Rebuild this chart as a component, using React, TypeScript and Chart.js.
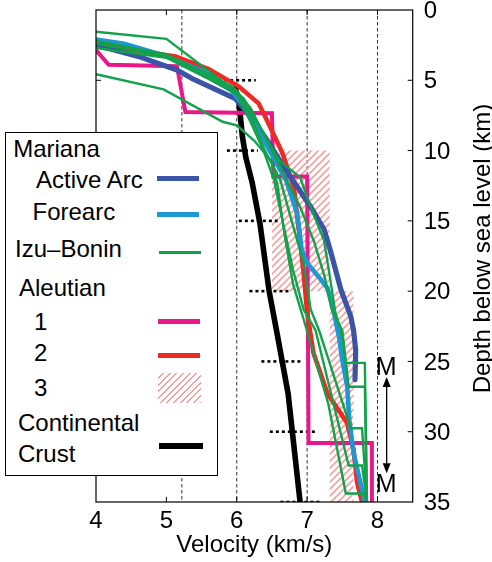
import React, { useEffect, useRef } from "react";
import { Chart, registerables } from "chart.js";

Chart.register(...registerables);

const FONT = '"Liberation Sans", Arial, Helvetica, sans-serif';

// ---- axes ----
const xTicks = [4, 5, 6, 7, 8];
const yTicks = [0, 5, 10, 15, 20, 25, 30, 35];
const gridX = [5.22, 6, 7, 8];

// ---- Mariana ----
const activeArcV = [4.0, 4.6, 5.15, 5.36, 5.98, 6.2, 6.43, 6.66, 7.05, 7.24, 7.33, 7.48, 7.62, 7.66, 7.69, 7.68];
const activeArcD = [2.5, 3.3, 4.27, 4.86, 6.3, 7.6, 9.25, 11.1, 14.0, 15.6, 17.1, 19.9, 21.8, 22.8, 24.2, 26.3];

const forearcV = [4.0, 4.4, 4.94, 5.5, 5.88, 6.1, 6.3, 6.5, 6.7, 6.86, 6.92, 7.0, 7.15, 7.29, 7.38, 7.45, 7.5, 7.57, 7.6, 7.66, 7.82];
const forearcD = [2.1, 2.4, 3.2, 4.3, 5.45, 6.8, 8.5, 10.3, 12.1, 14.5, 17.0, 18.0, 18.9, 19.8, 21.5, 23.2, 24.9, 26.8, 29.2, 31.5, 35];

// ---- Izu-Bonin profiles ----
const izu1V = [4.0, 5.0, 5.8, 6.1, 6.35, 6.6, 6.9, 7.05, 7.24, 7.33, 7.4, 7.48, 7.55, 7.82, 7.85];
const izu1D = [1.55, 2.05, 5.1, 6.3, 8.5, 10.7, 11.9, 14, 16.4, 19.2, 21.5, 22.8, 25.1, 25.1, 35];
const izu2V = [4.0, 5.0, 5.6, 5.95, 6.2, 6.45, 6.7, 6.9, 7.1, 7.25, 7.35, 7.5, 7.59, 7.82, 7.85];
const izu2D = [2.2, 3.15, 4.6, 5.5, 7.0, 9.5, 12.0, 14.0, 16.5, 19.0, 21.3, 22.8, 26.8, 26.8, 35];
const izu3V = [4.0, 5.0, 5.6, 6.0, 6.2, 6.4, 6.62, 6.78, 6.95, 7.05, 7.17, 7.62, 7.78, 7.85];
const izu3D = [2.4, 3.3, 4.8, 5.7, 7.5, 10, 12.1, 15, 18, 21.3, 22.8, 29.75, 29.75, 35];
const izu4V = [4.0, 5.0, 5.6, 6.0, 6.2, 6.38, 6.53, 6.65, 6.8, 6.95, 7.12, 7.59, 7.78, 7.85];
const izu4D = [2.7, 3.4, 4.9, 6.0, 8.0, 10, 12.1, 15, 18.5, 21.3, 22.8, 32.4, 32.4, 35];
const izu5V = [4.0, 4.96, 5.8, 6.0, 6.25, 6.5, 6.58, 6.68, 6.8, 6.95, 7.3, 7.55, 7.8, 7.85];
const izu5D = [4.57, 5.65, 7.95, 8.2, 9.3, 10.8, 12.5, 16, 19.5, 22, 28, 34.4, 34.4, 35];

// ---- Aleutian ----
const aleut1V = [4.0, 4.18, 5.15, 5.27, 6.5, 6.52, 7.0, 7.02, 7.92, 7.92];
const aleut1D = [2.85, 3.9, 4.0, 7.25, 7.35, 11.85, 11.85, 30.8, 30.8, 35];
const aleut2V = [4.0, 4.6, 5.13, 5.6, 6.03, 6.31, 6.45, 6.65, 6.81, 6.9, 6.95, 7.0, 7.09, 7.29, 7.57, 7.66, 7.71, 7.78];
const aleut2D = [2.4, 2.9, 3.3, 4.2, 5.45, 6.64, 8.06, 10.2, 12.6, 16.4, 18.7, 21.5, 24.4, 27.3, 29.4, 31.3, 33.6, 35];
// hatched ranges (Aleutian 3): [vMin, vMax, dTop, dBottom]
const aleut3Box1 = [6.5, 7.32, 10, 20];
const aleut3Box2 = [7.32, 7.66, 20, 35];

// ---- Continental crust ----
const crustV = [5.97, 6.03, 6.08, 6.13, 6.22, 6.33, 6.46, 6.58, 6.73, 6.9];
const crustD = [5.4, 6.5, 9, 10.5, 12.3, 15.2, 20, 23.2, 27.3, 35];
const crustErrDepth = [5, 10, 15, 20, 25, 30, 35];
const crustErrLo = [5.65, 5.86, 6.03, 6.18, 6.35, 6.47, 6.62];
const crustErrHi = [6.27, 6.3, 6.58, 6.77, 6.94, 7.12, 7.2];

// ---- Moho annotation ----
const mohoArrowV = 8.13;
const mohoArrowD = [26.1, 32.95];
const mohoLabelD = [25.96, 34.26];

const C = {
  arc: "#3b54a5",
  fore: "#1f97d4",
  green: "#12a24b",
  mag: "#e8178a",
  red: "#ee2a24",
  hatch: "#f2a0a0",
};

const pts = (v: number[], d: number[]) => v.map((vv, i) => ({ x: vv, y: d[i] }));
const box = (b: number[]) => [
  { x: b[0], y: b[2] },
  { x: b[1], y: b[2] },
  { x: b[1], y: b[3] },
  { x: b[0], y: b[3] },
  { x: b[0], y: b[2] },
];

function makeHatch(): CanvasPattern | string {
  const c = document.createElement("canvas");
  const s = 7;
  c.width = s;
  c.height = s;
  const g = c.getContext("2d");
  if (!g) return C.hatch;
  g.strokeStyle = C.hatch;
  g.lineWidth = 1.6;
  g.beginPath();
  g.moveTo(0, s);
  g.lineTo(s, 0);
  g.moveTo(-1, 1);
  g.lineTo(1, -1);
  g.moveTo(s - 1, s + 1);
  g.lineTo(s + 1, s - 1);
  g.stroke();
  const p = g.createPattern(c, "repeat");
  return p || C.hatch;
}

const decor = {
  id: "decor",
  afterDatasetsDraw(chart: any) {
    const { ctx, chartArea: a, scales } = chart;
    const x = scales.x;
    const y = scales.y;
    ctx.save();
    ctx.strokeStyle = "#000";
    ctx.lineWidth = 1.2;
    ctx.strokeRect(a.left, a.top, a.right - a.left, a.bottom - a.top);
    ctx.lineWidth = 1;
    const tl = 5;
    ctx.beginPath();
    for (const v of xTicks) {
      if (v <= x.min || v >= x.max) continue;
      const px = x.getPixelForValue(v);
      ctx.moveTo(px, a.top);
      ctx.lineTo(px, a.top + tl);
      ctx.moveTo(px, a.bottom);
      ctx.lineTo(px, a.bottom - tl);
    }
    for (const v of yTicks) {
      if (v <= y.min || v >= y.max) continue;
      const py = y.getPixelForValue(v);
      ctx.moveTo(a.left, py);
      ctx.lineTo(a.left + tl, py);
      ctx.moveTo(a.right, py);
      ctx.lineTo(a.right - tl, py);
    }
    ctx.stroke();

    // Moho arrow
    const ax = x.getPixelForValue(mohoArrowV);
    const y1 = y.getPixelForValue(mohoArrowD[0]);
    const y2 = y.getPixelForValue(mohoArrowD[1]);
    const ah = 10;
    const aw = 4;
    ctx.lineWidth = 1.3;
    ctx.beginPath();
    ctx.moveTo(ax, y1 + ah - 2);
    ctx.lineTo(ax, y2 - ah + 2);
    ctx.stroke();
    ctx.fillStyle = "#000";
    ctx.beginPath();
    ctx.moveTo(ax, y1);
    ctx.lineTo(ax - aw, y1 + ah);
    ctx.lineTo(ax + aw, y1 + ah);
    ctx.closePath();
    ctx.fill();
    ctx.beginPath();
    ctx.moveTo(ax, y2);
    ctx.lineTo(ax - aw, y2 - ah);
    ctx.lineTo(ax + aw, y2 - ah);
    ctx.closePath();
    ctx.fill();

    ctx.font = `25px ${FONT}`;
    ctx.textAlign = "center";
    ctx.textBaseline = "alphabetic";
    for (const d of mohoLabelD) {
      ctx.fillText("M", x.getPixelForValue(8.124), y.getPixelForValue(d));
    }
    ctx.restore();

    // Y axis title (reads bottom to top)
    ctx.save();
    ctx.font = `24px ${FONT}`;
    ctx.fillStyle = "#000";
    ctx.textAlign = "center";
    ctx.textBaseline = "alphabetic";
    ctx.translate(490, (a.top + a.bottom) / 2 - 7.5);
    ctx.rotate(-Math.PI / 2);
    ctx.fillText("Depth below sea level (km)", 0, 0);
    ctx.restore();
  },
};

const txt: React.CSSProperties = {
  position: "absolute",
  fontFamily: FONT,
  fontSize: 24,
  lineHeight: "24px",
  color: "#000",
  whiteSpace: "nowrap",
};

function Legend() {
  const t = (s: string, left: number, baseline: number) => (
    <div style={{ ...txt, left, top: baseline - 20.3 }}>{s}</div>
  );
  const sw = (color: string, left: number, width: number, cy: number, h: number) => (
    <div
      style={{
        position: "absolute",
        left,
        top: cy - h / 2,
        width,
        height: h,
        background: color,
      }}
    />
  );
  return (
    <div style={{ position: "absolute", left: 0, top: 0, width: 492, height: 562, pointerEvents: "none" }}>
      <div
        style={{
          position: "absolute",
          left: 5,
          top: 131.5,
          width: 212.5,
          height: 344.5,
          border: "1px solid #000",
          background: "#fff",
          boxSizing: "border-box",
        }}
      />
      {t("Mariana", 13.2, 157.7)}
      {t("Active Arc", 36, 188.3)}
      {t("Forearc", 32.5, 220.7)}
      {t("Izu–Bonin", 15.1, 257.3)}
      {t("Aleutian", 19, 296.7)}
      {t("1", 34, 330)}
      {t("2", 34, 361.7)}
      {t("3", 34, 396.7)}
      {t("Continental", 18, 431.7)}
      {t("Crust", 18, 462.3)}
      {sw(C.arc, 157.3, 41.7, 178.3, 5)}
      {sw(C.fore, 157.3, 41.7, 214, 5)}
      {sw(C.green, 159.3, 41.4, 252.3, 3)}
      {sw(C.mag, 158, 42, 321.7, 5)}
      {sw(C.red, 158, 42, 355.7, 5)}
      <div
        style={{
          position: "absolute",
          left: 158,
          top: 373.3,
          width: 43,
          height: 30,
          background: `repeating-linear-gradient(-45deg, ${C.hatch} 0px, ${C.hatch} 1.3px, transparent 1.3px, transparent 4.7px)`,
        }}
      />
      {sw("#000", 159, 43.7, 446, 5.5)}
    </div>
  );
}

export default function App() {
  const ref = useRef<HTMLCanvasElement>(null);

  useEffect(() => {
    if (!ref.current) return;
    const hatch = makeHatch();
    const line = (data: any[], color: string, width: number, extra: any = {}) => ({
      data,
      borderColor: color,
      backgroundColor: color,
      borderWidth: width,
      pointRadius: 0,
      pointHoverRadius: 0,
      tension: 0,
      fill: false,
      ...extra,
    });

    const izu = [
      [izu1V, izu1D],
      [izu2V, izu2D],
      [izu3V, izu3D],
      [izu4V, izu4D],
      [izu5V, izu5D],
    ].map(([v, d]) => line(pts(v, d), C.green, 2.4));

    const errBars = crustErrDepth.map((d, i) =>
      line(
        [
          { x: crustErrLo[i], y: d },
          { x: crustErrHi[i], y: d },
        ],
        "#000",
        2.6,
        { borderDash: [3, 3] }
      )
    );

    const boxes = [aleut3Box1, aleut3Box2].map((b) =>
      line(box(b), "rgba(0,0,0,0)", 0, { fill: "shape", backgroundColor: hatch })
    );

    const grid = gridX.map((v) =>
      line(
        [
          { x: v, y: 0 },
          { x: v, y: 35 },
        ],
        "#333",
        1,
        { borderDash: [3.5, 2.5] }
      )
    );

    const datasets = [
      ...izu,
      line(pts(forearcV, forearcD), C.fore, 4.6),
      line(pts(activeArcV, activeArcD), C.arc, 5.2, { borderJoinStyle: "round", borderCapStyle: "round" }),
      line(pts(aleut2V, aleut2D), C.red, 4.6),
      line(pts(aleut1V, aleut1D), C.mag, 4),
      line(pts(crustV, crustD), "#000", 5.6),
      ...errBars,
      ...boxes,
      ...grid,
    ];

    const tickFont = { family: FONT, size: 24 };

    const chart = new Chart(ref.current, {
      type: "line",
      data: { datasets },
      plugins: [decor],
      options: {
        animation: false,
        responsive: false,
        devicePixelRatio: 1,
        events: [],
        layout: { padding: { left: 96, top: 10, right: 0, bottom: 0 } },
        plugins: {
          legend: { display: false },
          tooltip: { enabled: false },
        },
        scales: {
          x: {
            type: "linear",
            min: 4,
            max: 8.5,
            grid: { display: false, drawTicks: false },
            border: { display: false },
            afterBuildTicks: (s: any) => {
              s.ticks = xTicks.map((v) => ({ value: v }));
            },
            afterFit: (s: any) => {
              s.height = 60;
              s.paddingLeft = 0;
              s.paddingRight = 0;
            },
            ticks: { font: tickFont, color: "#000", padding: 5, maxRotation: 0, autoSkip: false },
            title: {
              display: true,
              text: "Velocity (km/s)",
              font: tickFont,
              color: "#000",
              padding: { top: 0, bottom: 2.6 },
            },
          },
          y: {
            type: "linear",
            position: "right",
            reverse: true,
            min: 0,
            max: 35,
            grid: { display: false, drawTicks: false },
            border: { display: false },
            afterBuildTicks: (s: any) => {
              s.ticks = yTicks.map((v) => ({ value: v }));
            },
            afterFit: (s: any) => {
              s.width = 79.3;
              s.paddingTop = 0;
              s.paddingBottom = 0;
            },
            ticks: { font: tickFont, color: "#000", padding: 11, autoSkip: false, labelOffset: 1.5 },
          },
        },
      } as any,
    });
    return () => chart.destroy();
  }, []);

  return (
    <div style={{ position: "fixed", left: 0, top: 0, width: 492, height: 562, background: "#fff", overflow: "hidden" }}>
      <canvas ref={ref} width={492} height={562} style={{ display: "block", width: 492, height: 562 }} />
      <Legend />
    </div>
  );
}
